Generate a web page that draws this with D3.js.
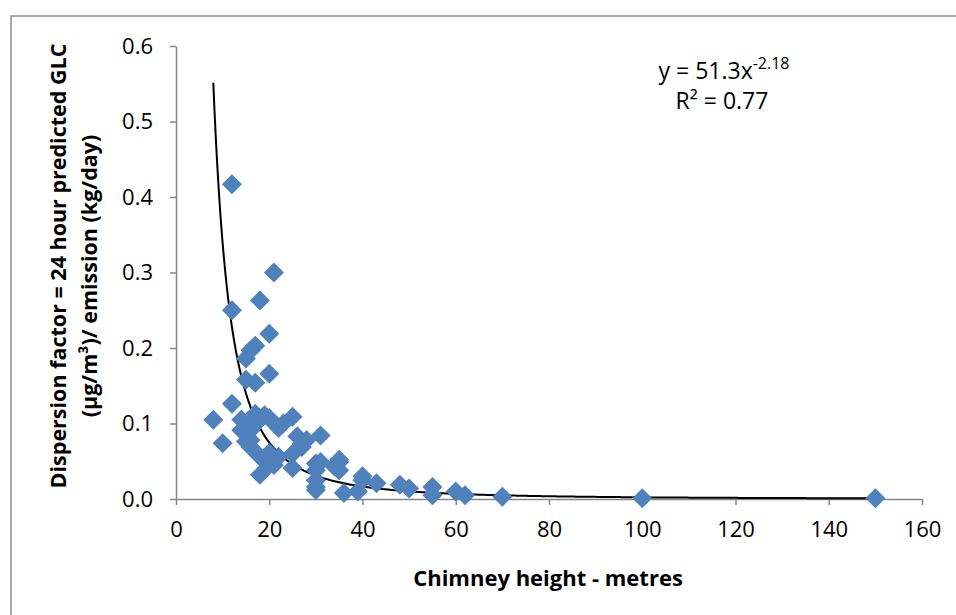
<!DOCTYPE html>
<html><head><meta charset="utf-8">
<script src="https://cdn.jsdelivr.net/npm/d3@7"></script>
<style>body{margin:0;background:#fff;} svg{display:block;}</style>
</head><body>
<svg id="c" width="956" height="615"></svg>
<script>
// Chimney height (m)
const heights = [8,10,12,12,12,14,14,15,15,15,15,16,16,16,16,16,17,17,17,18,18,18,18,19,20,20,20,20,20,21,21,22,22,23,25,25,25,26,27,27,28,30,30,30,30,30,31,31,34,35,35,35,36,39,40,40,43,48,50,55,55,60,62,70,100,150];
// Dispersion factor
const factors = [0.105,0.074,0.417,0.250,0.126,0.105,0.091,0.186,0.158,0.087,0.076,0.197,0.100,0.091,0.078,0.069,0.203,0.154,0.113,0.263,0.105,0.056,0.032,0.111,0.219,0.166,0.107,0.061,0.045,0.300,0.045,0.094,0.056,0.100,0.109,0.060,0.041,0.083,0.074,0.069,0.078,0.047,0.038,0.025,0.016,0.012,0.084,0.049,0.043,0.052,0.038,0.049,0.008,0.010,0.030,0.025,0.021,0.019,0.014,0.016,0.005,0.010,0.005,0.003,0.001,0.001];
const xTicks = [0,20,40,60,80,100,120,140,160];
const yTicks = [0,0.1,0.2,0.3,0.4,0.5,0.6];
const fitA = 51.3, fitB = -2.18;
const fitRange = [8,150];

const svg = d3.select("#c");
const L=176,R=922,T=46,B=499;
const x = d3.scaleLinear().domain([0,160]).range([L,R]);
const y = d3.scaleLinear().domain([0,0.6]).range([B,T]);

// outer frame
svg.append("rect").attr("x",11).attr("y",16).attr("width",980).attr("height",640)
  .attr("fill","none").attr("stroke","#8c8c8c").attr("stroke-width",1.5);

const font = "'Open Sans', sans-serif";
const gx = svg.append("g").attr("transform",`translate(0,${B})`)
  .call(d3.axisBottom(x).tickValues(xTicks).tickSize(6).tickSizeOuter(0).tickPadding(16).tickFormat(d3.format("d")));
const gy = svg.append("g").attr("transform",`translate(${L},0)`)
  .call(d3.axisLeft(y).tickValues(yTicks).tickSize(6).tickSizeOuter(0).tickPadding(17).tickFormat(d3.format(".1f")));
[gx,gy].forEach(g=>{
  g.select(".domain").attr("stroke","#868686").attr("stroke-width",1.5);
  g.selectAll(".tick line").attr("stroke","#868686").attr("stroke-width",1.5);
  g.selectAll("text").attr("font-family",font).attr("font-size",22).attr("fill","#000");
});

// fit line
const fx = d3.range(fitRange[0], fitRange[1]+0.01, 0.25);
svg.append("path").datum(fx)
  .attr("d", d3.line().x(d=>x(d)).y(d=>y(fitA*Math.pow(d,fitB))))
  .attr("fill","none").attr("stroke","#000").attr("stroke-width",2);

// points
const pts = heights.map((h,i)=>({h, f:factors[i]}));
svg.append("g").selectAll("path").data(pts).join("path")
  .attr("transform",d=>`translate(${x(d.h)},${y(d.f)})`)
  .attr("d","M0,-10L10,0L0,10L-10,0Z")
  .attr("fill","#4F81BD");

// axis titles
svg.append("text").attr("x",548).attr("y",586).attr("text-anchor","middle")
  .attr("font-family",font).attr("font-weight","bold").attr("font-size",22)
  .text("Chimney height - metres");
const yt = svg.append("text").attr("transform","translate(0,266) rotate(-90)")
  .attr("text-anchor","middle").attr("font-family",font).attr("font-weight","bold").attr("font-size",21.5);
yt.append("tspan").attr("x",0).attr("y",66).text("Dispersion factor = 24 hour predicted GLC");
yt.append("tspan").attr("x",-10).attr("y",97).text("(µg/m³)/ emission (kg/day)");

// equation
const eq = svg.append("text").attr("x",724).attr("y",79).attr("text-anchor","middle")
  .attr("font-family",font).attr("font-size",23);
eq.append("tspan").text("y = 51.3x");
eq.append("tspan").attr("dy",-10).attr("font-size",16).text("-2.18");
svg.append("text").attr("x",722).attr("y",109).attr("text-anchor","middle")
  .attr("font-family",font).attr("font-size",23).text("R² = 0.77");
</script>
</body></html>
